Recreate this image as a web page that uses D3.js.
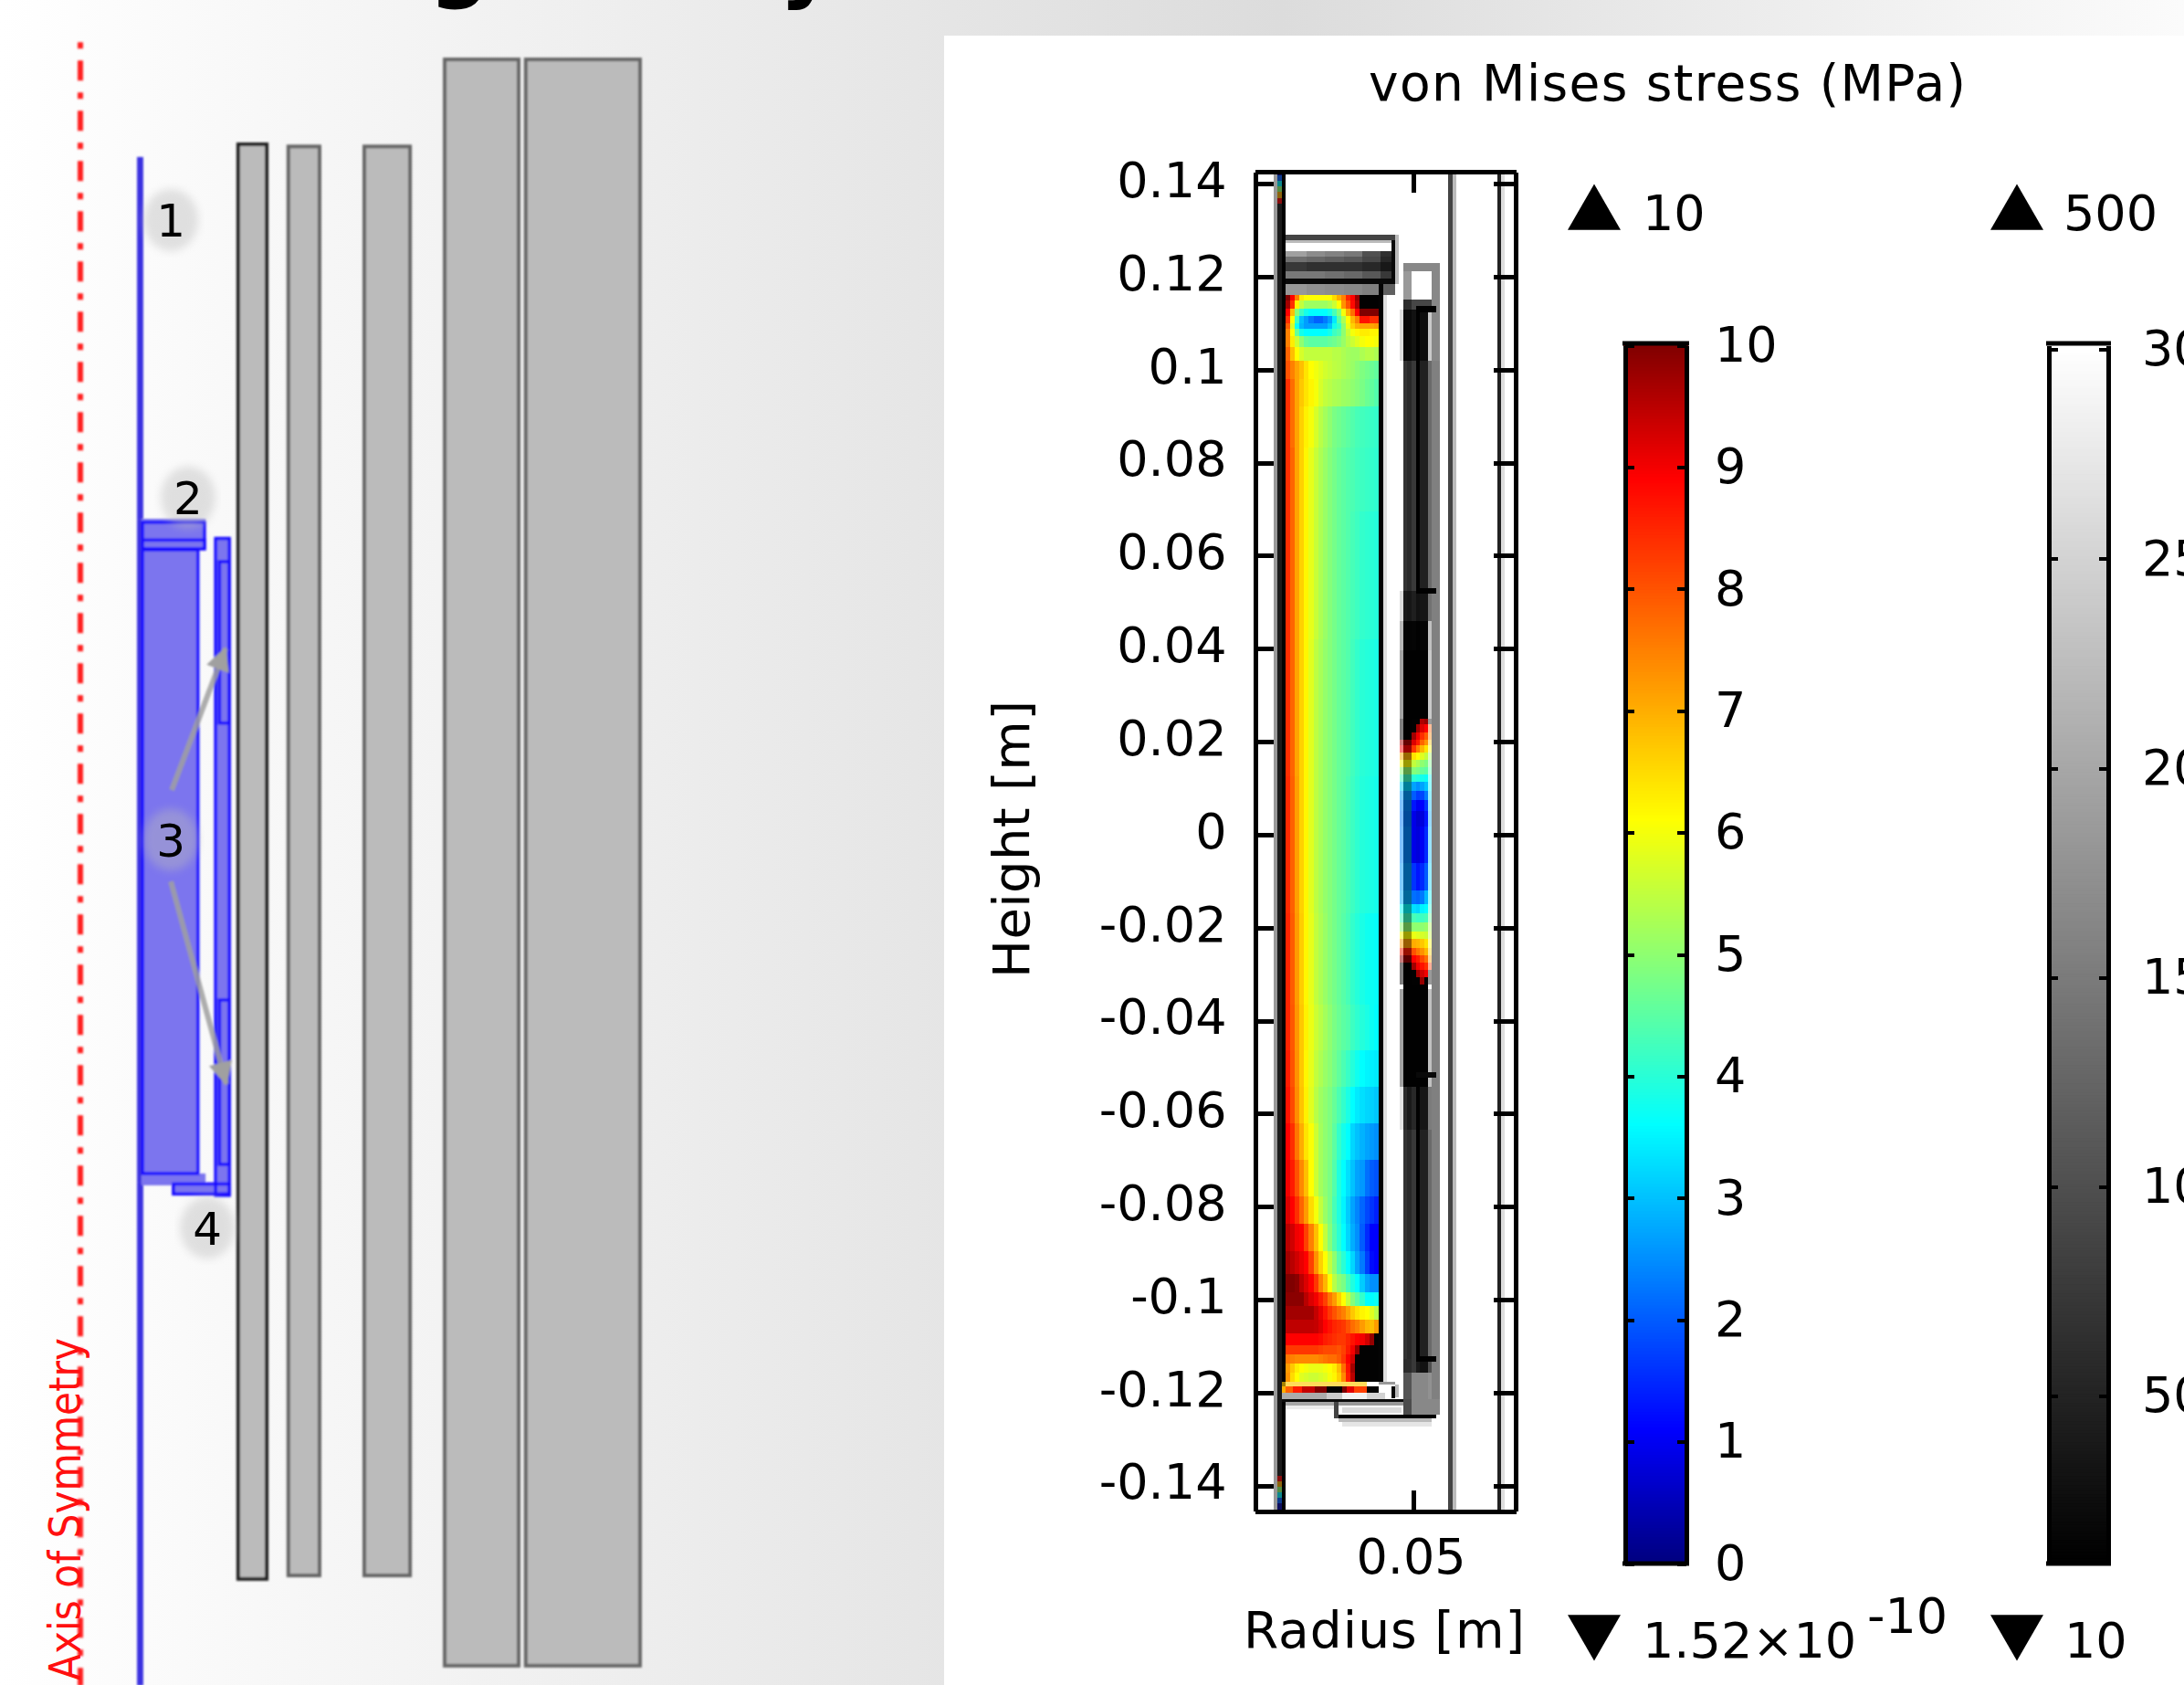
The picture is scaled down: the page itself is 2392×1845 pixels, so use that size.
<!DOCTYPE html>
<html>
<head>
<meta charset="utf-8">
<title>von Mises stress</title>
<script src="https://cdn.jsdelivr.net/npm/d3@7"></script>
<style>
  html, body { margin: 0; padding: 0; background: #fff; }
  svg { display: block; }
  text { font-family: "DejaVu Sans", sans-serif; fill: #000; }
  .axis text { font-size: 54px; }
</style>
</head>
<body>
<div id="d3-container"></div>
<script>
/* CONSTANTS AND GLOBALS */
const width = 2392,
  height = 1845;

/* DATA */
// axis ticks, all lengths in mm
const heightTicks = [140, 120, 100, 80, 60, 40, 20, 0, -20, -40, -60, -80, -100, -120, -140];
const radiusTicks = [50];
const colorTicks = [0, 1, 2, 3, 4, 5, 6, 7, 8, 9, 10];
const grayTicks = [50, 100, 150, 200, 250, 300];

// rainbow scale of the colour bar (MPa)
const rainbowStops = [0, 1.1, 3.6, 6.1, 8.9, 10];
const rainbowColors = ["#00007f", "#0000ff", "#00ffff", "#ffff00", "#ff0000", "#7f0000"];

// schematic, left panel: [r0, r1, z1, z0] in mm
const coils = [
  [53.2, 62.8, 266.1, -266.4],
  [70.1, 80.6, 265.3, -265.1],
  [95.7, 111.1, 265.3, -265.1],
  [122.8, 147.7, 297.6, -298.6],
  [150.1, 188.6, 297.6, -298.6]
];
const blueFills = [
  [20.6, 40, 116.9, -117],
  [20.6, 42.2, 127.1, 115.6],
  [45.2, 50.8, 120, -124],
  [20.6, 42.2, -115.9, -120.3],
  [30.8, 50.8, -120.3, -124]
];
const blueOutlines = [
  [21, 39.6, 115.6, -115.9],
  [21, 41.8, 125.8, 116],
  [21, 41.8, 119.2, 116],
  [45.6, 50.2, 119.8, -124],
  [46.9, 50.2, 111.2, 51.3],
  [46.9, 50.2, -51.5, -112.5],
  [21, 41.8, -119.8, -119.8],
  [31.4, 50.2, -119.8, -123.5]
];
const tube = [[19.1, 21.2, 261.4, 127.1], [19.1, 20.6, 127.1, -119], [19.1, 21.2, -119, -306]];
const symmetryAxis = [[0, 304], [0, -306]];
const partLabels = [
  { label: "1", r: 30.5, z: 238 },
  { label: "2", r: 36.3, z: 135 },
  { label: "3", r: 30.5, z: 8 },
  { label: "4", r: 42.8, z: -136 }
];
const arrows = [
  [[30.8, 26.4], [48.9, 79]],
  [[30.5, -7.5], [49.2, -82.7]]
];

// stress field of the bobbin (MPa). Above 10 MPa the gray range takes over.
const bodyRadii = d3.range(22.5, 42.6, 1);
const bodyRows = [116.1, 114.9, 113.2, 111.6, 110, 108.8, 107.3, 104.9, 102, 98, 92.1, 83.3, 69.5, 42, 12.6, -16.9, -36.5, -46.4, -54.2, -62.1, -70, -77.8, -83.7, -89.6, -94.5, -98.4, -101.4, -104.3, -107.3, -109.8, -111.8, -113.8, -115.7, -117.7];
const bodyStress = [
  [10, 8.9, 7.5, 6.3, 6.1, 6.1, 6.1, 6.1, 6.1, 6.1, 6.5, 7, 7.5, 8.5, 8.9, 9.8, 12, 12, 12, 12],
  [9.7, 8.4, 6.2, 5.5, 5.15, 5.15, 5.15, 5.15, 5.15, 5.3, 5.6, 6.1, 7.3, 8, 8.8, 9.6, 12, 12, 12, 12],
  [8.9, 6.8, 4.9, 4.2, 3.8, 3.6, 3.6, 3.6, 3.6, 3.8, 4.3, 4.9, 6, 7, 7.7, 8.9, 10, 10, 10, 10],
  [8.4, 6.1, 4.2, 3, 2.65, 2.3, 2.05, 2.05, 2.3, 2.65, 3.4, 4.5, 5.3, 6.1, 6.9, 7.5, 8.7, 8.7, 8.4, 8.4],
  [7.9, 5.7, 3.7, 2.9, 2.65, 2.65, 2.65, 2.65, 2.65, 3, 3.8, 4.1, 5, 5.9, 6.6, 7, 7.1, 7.1, 7.1, 7.2],
  [7.5, 6.1, 4.6, 3.8, 3.6, 3.6, 3.6, 3.6, 3.6, 3.8, 4.2, 4.4, 5, 5.6, 6, 6.2, 6.3, 6.3, 6.2, 6.2],
  [7.5, 6.3, 5.6, 5, 4.6, 4.5, 4.5, 4.5, 4.5, 4.6, 4.7, 4.85, 5.1, 5.4, 5.6, 5.8, 6, 6.1, 6.1, 6],
  [7.8, 6.8, 6.1, 5.7, 5.5, 5.5, 5.5, 5.5, 5.5, 5.5, 5.4, 5.4, 5.3, 5.2, 5.15, 5.15, 5.3, 5.4, 5.4, 5.3],
  [8, 7.5, 7.1, 6.8, 6.4, 6.1, 5.95, 5.8, 5.65, 5.55, 5.45, 5.4, 5.3, 5.2, 5.1, 4.95, 4.85, 4.75, 4.65, 4.55],
  [8.4, 7.7, 7.1, 6.7, 6.4, 6.2, 6, 5.7, 5.5, 5.4, 5.3, 5.25, 5.15, 5.1, 5, 4.9, 4.8, 4.65, 4.55, 4.4],
  [8.4, 7.7, 7.1, 6.6, 6.25, 6, 5.7, 5.4, 5.2, 5, 4.8, 4.7, 4.6, 4.5, 4.4, 4.3, 4.25, 4.2, 4.15, 4.1],
  [8.4, 7.8, 7.1, 6.6, 6.2, 5.85, 5.55, 5.3, 5.1, 4.9, 4.75, 4.6, 4.5, 4.4, 4.35, 4.25, 4.2, 4.15, 4.1, 4.05],
  [8.4, 7.8, 7.1, 6.6, 6.2, 5.85, 5.55, 5.3, 5.1, 4.9, 4.75, 4.6, 4.5, 4.4, 4.3, 4.2, 4.1, 4.05, 4, 3.95],
  [8.4, 7.8, 7.1, 6.6, 6.2, 5.8, 5.45, 5.25, 5.05, 4.9, 4.75, 4.6, 4.5, 4.4, 4.25, 4.1, 4, 3.95, 3.9, 3.85],
  [8.45, 7.85, 7.15, 6.6, 6.2, 5.8, 5.45, 5.25, 5.05, 4.9, 4.75, 4.6, 4.5, 4.35, 4.2, 4.05, 3.95, 3.9, 3.85, 3.8],
  [8.5, 7.9, 7.2, 6.65, 6.2, 5.85, 5.5, 5.3, 5.1, 4.9, 4.75, 4.6, 4.45, 4.3, 4.1, 3.95, 3.85, 3.75, 3.7, 3.65],
  [8.5, 7.95, 7.25, 6.7, 6.25, 5.9, 5.6, 5.4, 5.2, 5, 4.8, 4.65, 4.5, 4.4, 4.2, 4.05, 3.95, 3.85, 3.7, 3.6],
  [8.6, 8, 7.3, 6.7, 6.2, 5.85, 5.5, 5.3, 5.1, 4.95, 4.75, 4.55, 4.35, 4.15, 3.95, 3.75, 3.6, 3.5, 3.45, 3.4],
  [8.7, 8.1, 7.35, 6.75, 6.25, 5.8, 5.4, 5.15, 5, 4.85, 4.6, 4.35, 4.1, 3.85, 3.6, 3.4, 3.3, 3.2, 3.15, 3.05],
  [8.9, 8.4, 7.6, 7, 6.4, 6.05, 5.6, 5.2, 5, 4.85, 4.5, 4.1, 3.8, 3.6, 3.2, 3, 2.85, 2.7, 2.6, 2.5],
  [9, 8.6, 8, 7.4, 6.8, 6.1, 5.6, 5.2, 5, 4.8, 4.4, 3.9, 3.6, 3.3, 3, 2.7, 2.6, 2.2, 2, 1.9],
  [9.2, 8.9, 8.4, 7.8, 7.2, 6.5, 6, 5.5, 5.1, 4.8, 4.3, 3.9, 3.5, 3.1, 2.7, 2.4, 2.1, 1.8, 1.6, 1.4],
  [9.5, 9.3, 9, 8.9, 8.2, 7.5, 6.8, 6.1, 5.5, 4.9, 4.4, 4, 3.6, 3.2, 2.8, 2.5, 2, 1.5, 1.1, 1.1],
  [9.7, 9.5, 9.3, 9.1, 8.9, 8.2, 7.3, 6.6, 6.1, 5.5, 5, 4.4, 4, 3.6, 3.2, 2.7, 2.3, 1.7, 1.2, 1.1],
  [10, 10, 9.9, 9.5, 9.2, 8.9, 8.3, 7.5, 6.9, 6.1, 5.4, 5, 4.8, 4.3, 3.9, 3.6, 3.1, 2.7, 2.5, 2.5],
  [9.9, 9.9, 9.9, 9.9, 9.5, 9.2, 9, 8.6, 8.2, 7.6, 7.2, 6.6, 6.1, 5.5, 4.9, 4.5, 4.1, 3.6, 3.6, 3.7],
  [9.7, 9.7, 9.7, 9.7, 9.7, 9.7, 9.4, 9.1, 8.7, 8.3, 8, 7.7, 7.5, 7.1, 6.7, 6.4, 6.2, 6.1, 5.8, 5.4],
  [9.45, 9.45, 9.45, 9.45, 9.45, 9.45, 9.4, 9.2, 8.9, 8.7, 8.5, 8.4, 8.3, 8, 7.7, 7.5, 7.2, 6.9, 6.8, 7.2],
  [8.9, 8.9, 8.9, 8.9, 8.9, 8.9, 8.9, 8.8, 8.6, 8.5, 8.4, 8.3, 8.3, 8.5, 8.7, 8.9, 9, 9.3, 9.8, 12],
  [8.3, 8.3, 8.3, 8.3, 8.3, 8.3, 8.3, 8.2, 8.1, 8.1, 8.1, 8, 8.2, 8.6, 9, 9.8, 12, 12, 12, 12],
  [7.6, 7.5, 7.4, 7.4, 7.4, 7.4, 7.4, 7.5, 7.6, 7.7, 7.7, 7.9, 8.3, 8.9, 9.3, 12, 12, 12, 12, 12],
  [7.2, 6.7, 6.3, 6.1, 6, 5.9, 5.9, 5.9, 6, 6.1, 6.3, 6.8, 7.7, 8.7, 9.7, 12, 12, 12, 12, 12],
  [7.3, 6.5, 6.1, 5.8, 5.7, 5.6, 5.6, 5.7, 5.8, 6, 6.2, 6.6, 7.4, 8.6, 9.5, 12, 12, 12, 12, 12]
];

// the hot spot in the middle of the thin cylinder
const hotRadii = [49.6, 50.5, 51.4, 52.3, 53.1];
const hotRows = [25, 23.8, 22, 20.4, 19.3, 17.7, 16.1, 14.5, 13, 11.4, 9.4, 7.5, 5.1, 1.8, -6.1, -12, -14.9, -16.9, -18.9, -20.8, -22.4, -24.4, -25.9, -27.5, -29.1, -30.6, -32.2, -33.6];
// first value: wall to the left of the bright part, last value: wall to the right of it
const hotStress = [
  [12, 12, 12, 9.6, 9.8, 12],
  [12, 12, 9.7, 9.2, 8.9, 7.9],
  [12, 9.7, 9, 8.4, 7.9, 7.5],
  [9.6, 9.2, 8.6, 7.8, 7.3, 6.8],
  [8.9, 8.3, 7.5, 6.9, 6.4, 6.1],
  [7, 6.4, 6.1, 5.8, 5.5, 5.2],
  [6.1, 5.5, 5.3, 5, 4.85, 4.8],
  [5, 4.9, 4.8, 4.6, 4.5, 4.4],
  [4.2, 4, 3.9, 3.8, 3.7, 3.7],
  [3.2, 2.7, 2.5, 2.7, 3, 3.5],
  [2.6, 2, 1.7, 1.8, 2.3, 3.2],
  [2.4, 1.3, 1, 1.1, 1.6, 2.9],
  [2.3, 0.9, 0.7, 0.8, 1.3, 2.7],
  [2.4, 0.9, 0.8, 1, 1.5, 2.9],
  [2.6, 1.6, 1.3, 1.5, 2, 3.1],
  [2.8, 2.2, 2.1, 2.3, 2.9, 3.5],
  [3.6, 3.3, 3.2, 3.5, 3.6, 4],
  [4.2, 4.3, 4.2, 4.2, 4.3, 4.6],
  [5, 5, 5, 5, 5.1, 5.3],
  [6.1, 5.9, 5.8, 5.7, 5.6, 5.5],
  [7.2, 7, 6.9, 6.7, 6.4, 6.1],
  [8.6, 8, 7.6, 7.3, 6.9, 6.6],
  [9.8, 8.9, 8.6, 8.1, 7.7, 7.2],
  [12, 9.7, 9, 8.7, 8.4, 8.3],
  [12, 12, 9.7, 9.3, 9, 12],
  [12, 12, 12, 9.8, 12, 12]
];

// top flange, gray range (MPa)
const flangeRadii = [22.5, 27, 31, 35, 39, 43, 46.1];
const flangeRows = [125.5, 124.4, 123.2, 121.2, 119.6, 118.5, 116.1];
const flangeStress = [
  [192, 169, 158, 146, 101, 65],
  [137, 128, 119, 110, 92, 55],
  [74, 65, 65, 65, 55, 37],
  [146, 146, 137, 128, 110, 74],
  [20, 20, 20, 20, 20, 20],
  [183, 174, 169, 165, 156, 119]
];

// thin cylinder, gray range (MPa)
const wallRadii = [47.05, 47.84, 48.6, 49.6, 50.6, 51.4, 53.1, 53.9, 55.7];
const wallRows = [115.1, 113, 102, 52.5, 46, 39.7, 25, -33.2, -54.2, -63.5, -112.8, -115.7, -121.4];
const wallStress = [
  [300, 60, 60, 90, 90, 90, 90, 165],
  [261, 20, 20, 30, 22, 25, 240, 165],
  [300, 68, 57, 75, 60, 48, 130, 155],
  [261, 40, 35, 45, 30, 35, 140, 155],
  [220, 16, 14, 16, 12, 14, 230, 155],
  [195, 11, 11, 11, 11, 11, 240, 155],
  [300, 11, 11, 11, 11, 11, 300, 155],
  [195, 11, 11, 11, 11, 11, 230, 155],
  [270, 60, 40, 55, 45, 35, 150, 155],
  [300, 68, 57, 75, 60, 48, 130, 155],
  [300, 60, 60, 75, 40, 30, 100, 155],
  [300, 105, 105, 165, 165, 165, 175, 155]
];

// single parts of the plot: [r0, r1, z1, z0, stress]
const plotParts = [
  // tube
  [19.9, 20.7, 143, -146, 184],
  [20.7, 21.7, 143, -146, 40],
  [21.7, 22.5, 143, -146, 11],
  // vertical lines of the outer parts
  [57.5, 58.4, 143, -146, 87],
  [58.4, 59.2, 143, -146, 223],
  [68.1, 68.9, 143, -146, 49],
  [68.9, 69.6, 143, -146, 261],
  // top flange
  [22.5, 46.1, 129.1, 127.9, 87],
  [22.5, 45.3, 127.9, 127.3, 223],
  [22.5, 45.3, 127.3, 125.5, 300],
  [45.3, 46.1, 127.9, 119.6, 20],
  [46.1, 46.9, 129.1, 118.5, 223],
  [42.5, 43.5, 118.5, 116.1, 15],
  // right edge of the bobbin
  [42.5, 43.5, 116.1, -117.7, 15],
  [43.5, 44.3, 116.1, -117.7, 265],
  // top of the thin cylinder
  [47.84, 55.7, 123, 121.2, 165],
  [47.84, 49.6, 121.2, 115.1, 184],
  [53.9, 55.7, 121.2, 115.1, 165],
  // inner rectangles of the thin cylinder
  [50.6, 51.4, 113, 52.5, 11],
  [50.6, 51.4, -51.7, -112.8, 11],
  [50.6, 54.9, 113.7, 112.3, 11],
  [50.6, 54.9, 53, 51.9, 11],
  [50.6, 54.9, -51.1, -52.3, 20],
  [50.6, 54.9, -112.2, -113.4, 11],
  // bottom flange
  [22.5, 33, -121.4, -122, 25],
  [22.5, 33, -122, -122.8, 200],
  [22.5, 33, -122.8, -123.6, 280],
  [21.7, 48.4, -121.4, -122, 25],
  [33, 33.9, -122, -125.5, 87],
  [33.9, 48.4, -122, -122.8, 184],
  [34.7, 47.5, -123.2, -124.4, 260],
  [33.9, 54.9, -124.8, -125.5, 11],
  [33.9, 53.9, -125.5, -126.3, 223],
  [34.7, 53.9, -126.3, -127.3, 270],
  [47.84, 49.6, -121.4, -124.8, 95],
  [49.6, 55.7, -121.4, -124.8, 165],
  [42.5, 46, -117.7, -118.2, 184],
  [45.3, 46.1, -118.7, -121.2, 20],
  [46.1, 46.9, -118.2, -121, 223]
];

// first row under the bobbin, [r0, r1, stress] at z -118.7 to -120
const flangeHot = [
  [21.7, 22.5, 7],
  [22.5, 24.1, 7.85],
  [24.1, 26, 8.6],
  [26, 28.7, 9.4],
  [28.7, 31.3, 10],
  [31.3, 34.7, 11],
  [34.7, 35.7, 10],
  [35.7, 37.3, 9.15],
  [37.3, 39.9, 8.2],
  [39.9, 42.5, 12]
];
// second row, [r0, r1, stress] at z -120 to -121.4
const flangeGray = [
  [21.7, 31.3, 205],
  [31.3, 34.7, 240],
  [34.7, 39.9, 285],
  [39.9, 44, 250]
];
// the small coloured ends of the tube, [z1, z0, stress]
const tubeEnds = [
  [142.6, 141.8, 0.3],
  [141.8, 140.6, 2],
  [140.6, 139.4, 3.5],
  [139.4, 138.2, 5],
  [138.2, 137, 7],
  [137, 135.8, 9],
  [-137.9, -139.1, 9],
  [-139.1, -140.3, 7],
  [-140.3, -141.5, 5],
  [-141.5, -142.7, 3.5],
  [-142.7, -143.9, 2],
  [-143.9, -145.1, 0.3]
];

/* SCALES */
const xSketch = d3.scaleLinear().domain([0, 200]).range([88, 738]);
const ySketch = d3.scaleLinear().domain([-300, 300]).range([1828, 58]);

const xPlot = d3.scaleLinear().domain([15.91, 72]).range([1374.5, 1660]);
const yPlot = d3.scaleLinear().domain([-145.5, 142.6]).range([1654.6, 188]);

const yColorBar = d3.scaleLinear().domain([0, 10]).range([1712, 378]);
const yGrayBar = d3.scaleLinear().domain([10, 301]).range([1712, 378]);

const rainbow = d3.scaleLinear().domain(rainbowStops).range(rainbowColors).clamp(true);
const gray = d3.scaleLinear().domain([10, 300]).range(["#000000", "#ffffff"]).clamp(true);
const stressColor = v => (v > 10 ? gray(v) : rainbow(v));

const formatMetres = d => String(+(d / 1000).toFixed(2));

/* SVG */
const svg = d3.select("#d3-container")
  .append("svg")
  .attr("width", width)
  .attr("height", height);

const defs = svg.append("defs");

const backdrop = defs.append("linearGradient").attr("id", "backdrop");
backdrop.selectAll("stop")
  .data([[0, "#ffffff"], [0.587, "#dcdcdc"], [1, "#fbfbfb"]])
  .join("stop")
  .attr("offset", d => d[0])
  .attr("stop-color", d => d[1]);

defs.append("filter").attr("id", "soft")
  .append("feGaussianBlur").attr("stdDeviation", 1);
defs.append("filter").attr("id", "halo")
  .append("feGaussianBlur").attr("stdDeviation", 5);

defs.append("marker")
  .attr("id", "head")
  .attr("markerUnits", "userSpaceOnUse")
  .attr("markerWidth", 34)
  .attr("markerHeight", 34)
  .attr("refX", 26)
  .attr("refY", 17)
  .attr("orient", "auto")
  .append("path")
  .attr("d", "M2,4L28,17L2,30Z")
  .attr("fill", "#a0a0a0");

svg.append("rect")
  .attr("width", width)
  .attr("height", height)
  .attr("fill", "url(#backdrop)");

// the title of the slide is cut by the top of the picture
svg.selectAll(".slideTitle")
  .data([{ c: "g", x: 503 }, { c: "y", x: 884 }])
  .join("text")
  .attr("class", "slideTitle")
  .attr("x", d => d.x)
  .attr("y", -9)
  .attr("text-anchor", "middle")
  .attr("font-size", 92)
  .attr("font-weight", 700)
  .text(d => d.c);

svg.append("rect")
  .attr("x", 1034)
  .attr("y", 39)
  .attr("width", width - 1034)
  .attr("height", height - 39)
  .attr("fill", "#fff");

/* LEFT PANEL */
const sketch = svg.append("g").attr("filter", "url(#soft)");

const sketchRect = (sel) => sel
  .attr("x", d => xSketch(d[0]))
  .attr("width", d => xSketch(d[1]) - xSketch(d[0]))
  .attr("y", d => ySketch(d[2]))
  .attr("height", d => ySketch(d[3]) - ySketch(d[2]));

sketch.append("path")
  .datum(symmetryAxis)
  .attr("d", d3.line().x(d => xSketch(d[0])).y(d => ySketch(d[1])))
  .attr("fill", "none")
  .attr("stroke", "#ff2020")
  .attr("stroke-width", 6)
  .attr("stroke-dasharray", "7 13 22 13");

sketch.selectAll(".coil")
  .data(coils)
  .join("rect")
  .attr("class", "coil")
  .call(sketchRect)
  .attr("fill", "#bbbbbb")
  .attr("stroke", (d, i) => (i === 0 ? "#222" : "#666"))
  .attr("stroke-width", 4);

sketch.selectAll(".tube")
  .data(tube)
  .join("rect")
  .attr("class", "tube")
  .call(sketchRect)
  .attr("fill", "#3a30e0");

sketch.selectAll(".blueFill")
  .data(blueFills)
  .join("rect")
  .attr("class", "blueFill")
  .call(sketchRect)
  .attr("fill", "#7b74ee");

sketch.selectAll(".blueOutline")
  .data(blueOutlines)
  .join("rect")
  .attr("class", "blueOutline")
  .call(sketchRect)
  .attr("fill", "none")
  .attr("stroke", "#1a10ff")
  .attr("stroke-width", 3.5);

sketch.selectAll(".arrow")
  .data(arrows)
  .join("line")
  .attr("class", "arrow")
  .attr("x1", d => xSketch(d[0][0]))
  .attr("y1", d => ySketch(d[0][1]))
  .attr("x2", d => xSketch(d[1][0]))
  .attr("y2", d => ySketch(d[1][1]))
  .attr("stroke", "#a0a0a0")
  .attr("stroke-opacity", 0.85)
  .attr("stroke-width", 6)
  .attr("marker-end", "url(#head)");

svg.selectAll(".labelHalo")
  .data(partLabels)
  .join("ellipse")
  .attr("class", "labelHalo")
  .attr("cx", d => xSketch(d.r))
  .attr("cy", d => ySketch(d.z))
  .attr("rx", 30)
  .attr("ry", 34)
  .attr("fill", "#bbbbbb")
  .attr("opacity", 0.42)
  .attr("filter", "url(#halo)");

svg.selectAll(".partLabel")
  .data(partLabels)
  .join("text")
  .attr("class", "partLabel")
  .attr("x", d => xSketch(d.r))
  .attr("y", d => ySketch(d.z))
  .attr("dy", "0.37em")
  .attr("text-anchor", "middle")
  .attr("font-size", 50)
  .text(d => d.label);

svg.append("text")
  .attr("transform", "translate(88,1840) rotate(-90)")
  .attr("font-size", 48)
  .attr("textLength", 375)
  .attr("lengthAdjust", "spacingAndGlyphs")
  .style("fill", "#ff1010")
  .text("Axis of Symmetry");

/* PLOT */
const plot = svg.append("g").attr("shape-rendering", "crispEdges");

const plotRect = (sel, r0, r1, z1, z0) => sel
  .attr("x", d => xPlot(r0(d)))
  .attr("width", d => xPlot(r1(d)) - xPlot(r0(d)))
  .attr("y", d => yPlot(z1(d)))
  .attr("height", d => yPlot(z0(d)) - yPlot(z1(d)));

// turns a table of stresses into rectangles
function gridCells(radii, rows, values) {
  return values.flatMap((row, j) => row.map((v, i) => ({
    r0: radii[i], r1: radii[i + 1], z1: rows[j], z0: rows[j + 1], v
  })));
}

function drawCells(cells, name, opacity) {
  plot.selectAll("." + name)
    .data(cells)
    .join("rect")
    .attr("class", name)
    .call(plotRect, d => d.r0, d => d.r1, d => d.z1, d => d.z0)
    .attr("fill", d => stressColor(d.v))
    .attr("fill-opacity", opacity || 1);
}

drawCells(gridCells(bodyRadii, bodyRows, bodyStress), "body");
drawCells(gridCells(flangeRadii, flangeRows, flangeStress), "flange");
drawCells(gridCells(wallRadii, wallRows, wallStress), "wall");

plot.selectAll(".part")
  .data(plotParts)
  .join("rect")
  .attr("class", "part")
  .call(plotRect, d => d[0], d => d[1], d => d[2], d => d[3])
  .attr("fill", d => stressColor(d[4]));

drawCells(tubeEnds.map(d => ({ r0: 20.7, r1: 21.7, z1: d[0], z0: d[1], v: d[2] })), "tubeEnd", 0.5);

// hot spot: bright in the middle, the same values show dimmed through the walls beside it
const hotCell = (j, r0, r1, v) => ({ r0, r1, z1: hotRows[j], z0: hotRows[j + 1], v });
drawCells(hotStress.flatMap((row, j) => row.slice(1, 5).map((v, i) => hotCell(j, hotRadii[i], hotRadii[i + 1], v))), "hot");
drawCells(hotStress.map((row, j) => hotCell(j, 47.05, 47.84, row[0])), "hotPale", 0.5);
drawCells(hotStress.map((row, j) => hotCell(j, 47.84, 49.6, row[0])), "hotDim", 0.6);
drawCells(hotStress.map((row, j) => hotCell(j, 53.1, 53.9, row[5])), "hotPale2", 0.4);

// olive band and the rows under the bobbin
plot.append("rect")
  .datum([21.7, 39.9, -117.7, -118.7, 6.7])
  .call(plotRect, d => d[0], d => d[1], d => d[2], d => d[3])
  .attr("fill", d => stressColor(d[4]))
  .attr("fill-opacity", 0.65);
drawCells(flangeHot.map(d => ({ r0: d[0], r1: d[1], z1: -118.7, z0: -120, v: d[2] })), "flangeHot");
drawCells(flangeGray.map(d => ({ r0: d[0], r1: d[1], z1: -120, z0: -121.4, v: d[2] })), "flangeGray");

/* AXES */
const axisStyle = (g) => {
  g.attr("class", "axis");
  g.selectAll("path, line")
    .attr("stroke", "#000")
    .attr("stroke-width", 5)
    .attr("shape-rendering", "crispEdges");
};

svg.append("g")
  .attr("transform", `translate(${xPlot.range()[0]},0)`)
  .call(d3.axisLeft(yPlot).tickValues(heightTicks).tickFormat(formatMetres).tickSizeInner(-20).tickSizeOuter(0).tickPadding(31))
  .call(axisStyle)
  .selectAll("text").attr("font-family", null).attr("font-size", null).attr("y", -3);

svg.append("g")
  .attr("transform", `translate(${xPlot.range()[1]},0)`)
  .call(d3.axisRight(yPlot).tickValues(heightTicks).tickFormat("").tickSizeInner(-24).tickSizeOuter(0))
  .call(axisStyle);

svg.append("g")
  .attr("transform", `translate(0,${yPlot.range()[1]})`)
  .call(d3.axisTop(xPlot).tickValues(radiusTicks).tickFormat("").tickSizeInner(-23).tickSizeOuter(0))
  .call(axisStyle);

svg.append("g")
  .attr("transform", `translate(0,${yPlot.range()[0]})`)
  .call(d3.axisBottom(xPlot).tickValues(radiusTicks).tickFormat(formatMetres).tickSizeInner(-23).tickSizeOuter(0).tickPadding(30))
  .call(axisStyle)
  .selectAll("text").attr("font-family", null).attr("font-size", null).attr("x", -3);

svg.append("text")
  .attr("x", 1826)
  .attr("y", 110)
  .attr("text-anchor", "middle")
  .attr("font-size", 55)
  .attr("textLength", 654)
  .text("von Mises stress (MPa)");

svg.append("text")
  .attr("x", 1516)
  .attr("y", 1804)
  .attr("text-anchor", "middle")
  .attr("font-size", 55)
  .attr("textLength", 308)
  .text("Radius [m]");

svg.append("text")
  .attr("transform", "translate(1127,919) rotate(-90)")
  .attr("text-anchor", "middle")
  .attr("font-size", 56)
  .attr("textLength", 304)
  .text("Height [m]");

/* COLOUR BARS */
function colorBar(x0, x1, scale, ticks, color, padding) {
  const [lo, hi] = scale.domain();
  const steps = d3.range(lo, hi, (hi - lo) / 400);
  const g = svg.append("g");

  g.selectAll("rect")
    .data(steps)
    .join("rect")
    .attr("x", x0)
    .attr("width", x1 - x0)
    .attr("y", d => scale(d + (hi - lo) / 400))
    .attr("height", d => scale(d) - scale(d + (hi - lo) / 400) + 1)
    .attr("fill", d => color(d));

  g.append("g")
    .attr("transform", `translate(${x0 + 2},0)`)
    .call(d3.axisRight(scale).tickValues(ticks).tickSizeInner(10).tickSizeOuter(0).tickPadding(padding))
    .call(axisStyle)
    .call(a => a.selectAll("line").attr("stroke-width", 4))
    .call(a => a.selectAll("path").attr("stroke-width", 5))
    .selectAll("text").attr("font-family", null).attr("font-size", null);

  g.append("g")
    .attr("transform", `translate(${x1 - 2},0)`)
    .call(d3.axisLeft(scale).tickValues(ticks).tickFormat("").tickSizeInner(10).tickSizeOuter(0))
    .call(axisStyle)
    .call(a => a.selectAll("line").attr("stroke-width", 4))
    .call(a => a.selectAll("path").attr("stroke-width", 5));

  g.append("line")
    .attr("x1", x0 - 1).attr("x2", x1 + 1)
    .attr("y1", scale.range()[1] - 2).attr("y2", scale.range()[1] - 2)
    .attr("stroke", "#000").attr("stroke-width", 5);
  g.append("line")
    .attr("x1", x0 - 1).attr("x2", x1 + 1)
    .attr("y1", scale.range()[0]).attr("y2", scale.range()[0])
    .attr("stroke", "#000").attr("stroke-width", 5);
}

colorBar(1778, 1849, yColorBar, colorTicks, rainbow, 88);
colorBar(2242, 2311, yGrayBar, grayTicks, gray, 92);

/* RANGE MARKERS */
const triangle = d3.symbol().type(d3.symbolTriangle).size(1456)();
const rangeMarks = [
  { x: 1746, y: 235, rot: 0, tx: 1799, ty: 252, text: "10" },
  { x: 2209, y: 235, rot: 0, tx: 2260, ty: 252, text: "500" },
  { x: 1746, y: 1785, rot: 180, tx: 1799, ty: 1815, text: "1.52×10" },
  { x: 2209, y: 1785, rot: 180, tx: 2261, ty: 1815, text: "10" }
];

svg.selectAll(".rangeMark")
  .data(rangeMarks)
  .join("path")
  .attr("class", "rangeMark")
  .attr("d", triangle)
  .attr("transform", d => `translate(${d.x},${d.y}) rotate(${d.rot})`)
  .attr("fill", "#000");

svg.selectAll(".rangeText")
  .data(rangeMarks)
  .join("text")
  .attr("class", "rangeText")
  .attr("x", d => d.tx)
  .attr("y", d => d.ty)
  .attr("font-size", 54)
  .text(d => d.text);

svg.append("text")
  .attr("x", 2045)
  .attr("y", 1788)
  .attr("font-size", 54)
  .text("-10");
</script>
</body>
</html>
